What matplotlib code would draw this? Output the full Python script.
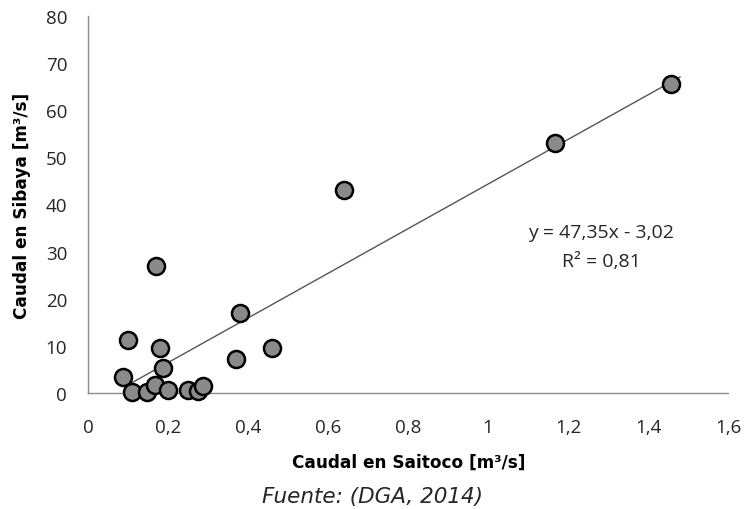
import matplotlib
matplotlib.use("Agg")
import matplotlib.pyplot as plt
import numpy as np

# Data
caudal_saitoco = [0.088, 0.10, 0.11, 0.148, 0.168, 0.17, 0.18, 0.188, 0.20,
                  0.25, 0.276, 0.288, 0.37, 0.38, 0.46, 0.64, 1.1675, 1.457]
caudal_sibaya = [3.3, 11.3, 0.2, 0.2, 1.7, 27.0, 9.6, 5.4, 0.6,
                 0.6, 0.5, 1.4, 7.2, 17.0, 9.6, 43.0, 53.0, 65.5]
slope, intercept = 47.35, -3.02
r2 = 0.81
trend_x = [0.11, 1.48]
x_ticks = [0, 0.2, 0.4, 0.6, 0.8, 1.0, 1.2, 1.4, 1.6]
x_tick_labels = ["0", "0,2", "0,4", "0,6", "0,8", "1", "1,2", "1,4", "1,6"]
y_ticks = [0, 10, 20, 30, 40, 50, 60, 70, 80]

fig = plt.figure(figsize=(7.45, 5.10), dpi=100)
ax = fig.add_axes([88/745, 1-394/510, (728-88)/745, (394-17)/510])

tx = np.array(trend_x)
ax.plot(tx, slope*tx + intercept, color="#555555", lw=1.0, zorder=2)
ax.scatter(caudal_saitoco, caudal_sibaya, s=150, facecolor="#8a8a8a",
           edgecolor="black", linewidth=1.8, zorder=3, clip_on=False)

ax.set_xlim(0, 1.6)
ax.set_ylim(0, 80)
ax.set_xticks(x_ticks)
ax.set_xticklabels(x_tick_labels)
ax.set_yticks(y_ticks)
for s in ["top", "right"]:
    ax.spines[s].set_visible(False)
for s in ["left", "bottom"]:
    ax.spines[s].set_color("#8c8c8c")
    ax.spines[s].set_linewidth(1.0)
ax.tick_params(length=0, labelsize=13.5, colors="#262626")
ax.tick_params(axis="x", pad=18)
ax.tick_params(axis="y", pad=15)
for lab in ax.get_xticklabels() + ax.get_yticklabels():
    lab.set_family("Open Sans")

ax.set_xlabel("Caudal en Saitoco [m³/s]", fontsize=12.2, fontweight="bold",
              family="DejaVu Sans", va="center")
ax.set_ylabel("Caudal en Sibaya [m³/s]", fontsize=12.2, fontweight="bold",
              family="DejaVu Sans", va="center")
ax.xaxis.set_label_coords((408.5-88)/640, (394-463)/377)
ax.yaxis.set_label_coords((22-88)/640, 0.5)

eq = f"y = {slope:.2f}x - {abs(intercept):.2f}".replace(".", ",")
r2t = f"R² = {r2:.2f}".replace(".", ",")
fig.text(601/745, 1-233/510, eq, ha="center", va="center", fontsize=14,
         family="Open Sans", color="#262626")
fig.text(601/745, 1-262/510, r2t, ha="center", va="center", fontsize=14,
         family="Open Sans", color="#262626")

fig.text(372/745, 1-497/510, "Fuente: (DGA, 2014)", ha="center", va="center",
         fontsize=15.5, style="italic", family="DejaVu Sans", color="#262626")

fig.savefig("out.png", dpi=100)
